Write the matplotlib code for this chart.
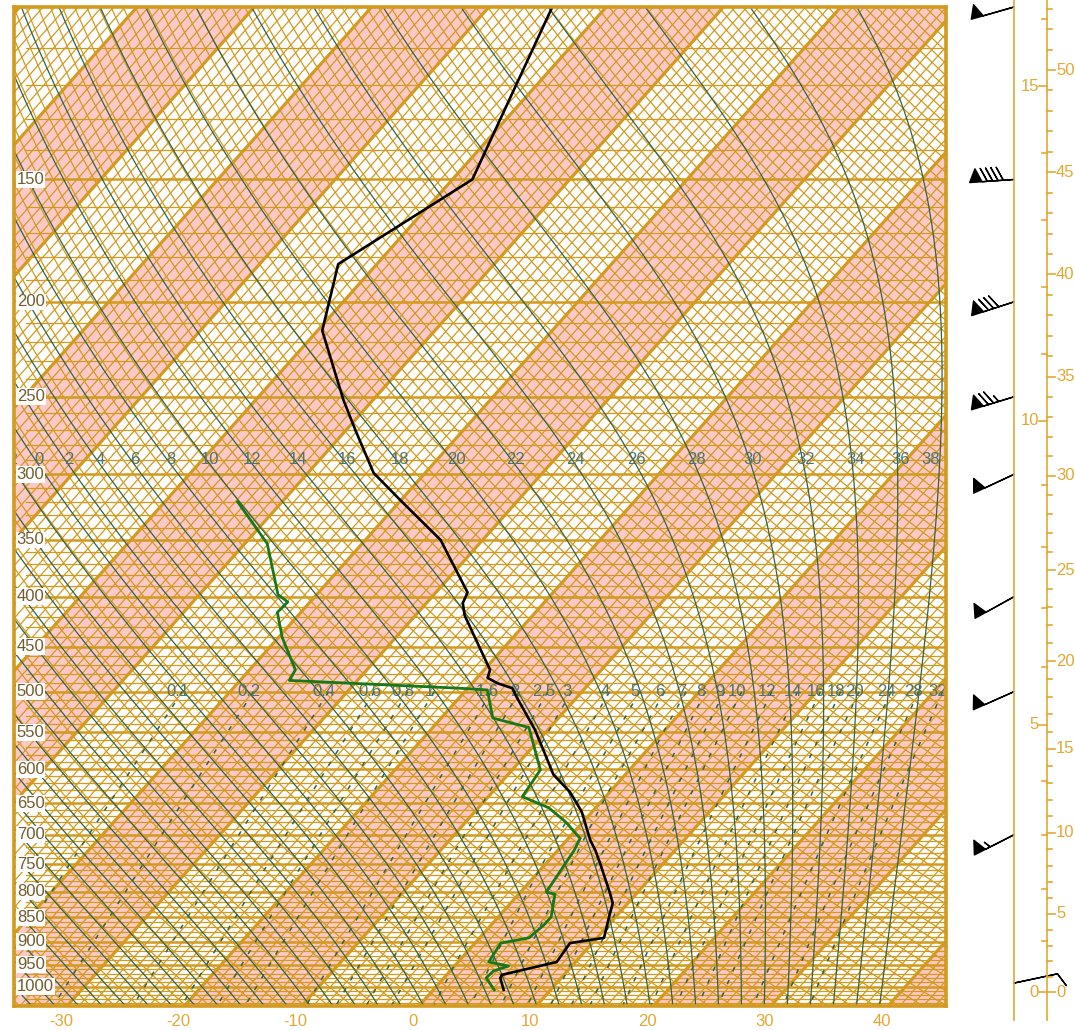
import numpy as np
import matplotlib.pyplot as plt

plt.rcParams['font.family'] = ['Liberation Sans', 'DejaVu Sans']

# ---- sounding (hPa, degC) ----
pres = [1008, 980, 973, 944, 903, 892, 855, 822, 801, 752, 726, 709, 663, 633, 608,
        547, 507, 496, 490, 484, 475, 418, 406, 396, 350, 319, 299, 271, 252, 214,
        183, 150, 100]
temp = [6.0, 4.8, 4.7, 8.4, 8.1, 10.6, 9.6, 8.7, 7.6, 4.8, 3.2, 2.0, -0.9, -3.4, -6.1,
        -11.1, -15.1, -16.2, -17.9, -19.1, -19.5, -25.8, -26.9, -27.3, -33.6, -40.0, -44.4,
        -49.1, -52.5, -59.6, -63.3, -58.3, -64.6]
dew_pres = [1008, 980, 964, 953, 944, 903, 892, 865, 849, 805, 801, 726, 706, 679, 657,
            640, 601, 544, 532, 498, 496, 487, 475, 440, 415, 405, 398, 353, 320]
dewp = [5.2, 3.6, 3.7, 4.6, 2.6, 2.2, 4.2, 4.5, 4.5, 3.1, 2.2, 1.4, 1.0, -1.5, -4.0,
        -7.1, -7.6, -11.8, -15.6, -18.2, -20.7, -35.8, -36.1, -39.7, -42.0, -41.9, -43.3,
        -48.1, -53.8]

# winds (hPa, kt, deg)
wind_pres = [992, 700, 500, 400, 300, 250, 200, 150, 100]
wind_spd = [10, 55, 50, 50, 50, 75, 80, 90, 50]
wind_dir = [78, 243, 246, 241, 245, 253, 252, 266, 254]

pres_labels = [150, 200, 250, 300, 350, 400, 450, 500, 550, 600, 650, 700, 750, 800,
               850, 900, 950, 1000]
temp_ticks = [-30, -20, -10, 0, 10, 20, 30, 40]
thw_labels = list(range(-2, 40, 2))
mix_ratios = [0.1, 0.2, 0.4, 0.6, 0.8, 1, 1.6, 2, 2.5, 3, 4, 5, 6, 7, 8, 9, 10,
              12, 14, 16, 18, 20, 24, 28, 32]
km_labels = [0, 5, 10, 15]
kft_labels = [0, 5, 10, 15, 20, 25, 30, 35, 40, 45, 50]

# ---- diagram geometry ----
P_TOP, P_BOT = 100.0, 1046.9
K = 32.35  # skew, degC per ln(p)
X0, PXD = 418.9, 11.73  # pixel of 0 degC at the bottom edge, pixels per degC
ORANGE = '#D39A1E'
PINK = '#FFC9C9'
GREEN = '#2E644A'
TEAL = '#4C7474'
GOLD = '#E3A833'


def skx(t, p):
    return np.asarray(t) + K * np.log(P_BOT / np.asarray(p))


def slope(t, lnp):
    p = np.exp(lnp)
    tk = t + 273.15
    es = 6.112 * np.exp(17.67 * t / (t + 243.5))
    rs = 0.622 * es / (p - es)
    return (287.04 * tk + 2.501e6 * rs) / (1005.7 + 2.501e6 ** 2 * rs * 0.622 / (287.04 * tk ** 2))


def moist(thw, lnp):
    t = np.array(thw, float)
    out = [t.copy()]
    for a, b in zip(lnp[:-1], lnp[1:]):
        h = b - a
        k1 = slope(t, a)
        k2 = slope(t + h / 2 * k1, a + h / 2)
        k3 = slope(t + h / 2 * k2, a + h / 2)
        k4 = slope(t + h * k3, b)
        t = t + h / 6 * (k1 + 2 * k2 + 2 * k3 + k4)
        out.append(t.copy())
    return np.array(out)


W, H = 1075, 1030
fig = plt.figure(figsize=(W / 100, H / 100), dpi=100)
ax = fig.add_axes([14 / W, 1 - 1006 / H, 932 / W, 999 / H])
xl, xr = (14 - X0) / PXD, (946 - X0) / PXD
ax.set_xlim(xl, xr)
lnb, lnt = np.log(P_BOT), np.log(P_TOP)
ax.set_ylim(lnb, lnt)

# pink bands, every other 10 degC
for t0 in range(-140, 60, 20):
    xs = [skx(t0, P_BOT), skx(t0 + 10, P_BOT), skx(t0 + 10, P_TOP), skx(t0, P_TOP)]
    ax.fill(xs, [lnb, lnb, lnt, lnt], color=PINK, lw=0, zorder=0)

# thin isotherms
for t in range(-120, 51):
    ax.plot([skx(t, P_BOT), skx(t, P_TOP)], [lnb, lnt], color=ORANGE, lw=0.9, zorder=1)

# dry adiabats
pg = np.exp(np.linspace(lnt, lnb, 120))
for th in range(230, 472, 2):
    ax.plot(skx(th * (pg / 1000) ** 0.2857 - 273.15, pg), np.log(pg),
            color=ORANGE, lw=0.9, zorder=1)

# isobars
x_start = (26 - X0) / PXD
for p in range(110, 1041, 10):
    thick = p % 50 == 0
    ax.plot([x_start, xr], [np.log(p)] * 2, color=ORANGE,
            lw=1.8 if thick else 0.9, zorder=2 if thick else 1)

# thick isotherms
for t in range(-140, 60, 10):
    ax.plot([skx(t, P_BOT), skx(t, P_TOP)], [lnb, lnt], color=ORANGE, lw=2.3, zorder=2)

# saturated adiabats
thw = np.arange(-44, 40, 2)
up = np.linspace(np.log(1000), np.log(98), 300)
dn = np.linspace(np.log(1000), np.log(1050), 12)
tu, td = moist(thw, up), moist(thw, dn)
lnp_m = np.concatenate([dn[::-1], up[1:]])
tm = np.vstack([td[::-1], tu[1:]])
for j in range(len(thw)):
    ax.plot(skx(tm[:, j], np.exp(lnp_m)), lnp_m, color=GREEN, lw=0.9, zorder=3)
for v in thw_labels:
    j = list(thw).index(v)
    tl = np.interp(np.log(290), up[::-1], tu[::-1, j])
    xlab = min(skx(tl, 290) + 0.3, xr - 1.3)
    ax.text(xlab, np.log(290), str(v), ha='center', va='center',
            fontsize=12, color=TEAL, zorder=6, clip_on=True)

# mixing ratio lines (dashed, below 500 hPa)
pw = np.linspace(500, 1050, 60)
for w in mix_ratios:
    e = w / 1000 * pw / (0.622 + w / 1000)
    le = np.log(e / 6.112)
    tw = 243.5 * le / (17.67 - le)
    ti = 272.62 * le / (22.46 - le)
    t = np.where(tw < 0, ti, tw)
    ax.plot(skx(t, pw), np.log(pw), color=GREEN, lw=1.1,
            linestyle=(0, (3, 6)), zorder=3)
    ax.text(skx(t[0], 500) - 0.4, np.log(500), f'{w:g}', ha='center', va='center',
            fontsize=12, color=TEAL, zorder=6)

# pressure labels
for p in pres_labels:
    ax.text(0.003, np.log(p), str(p), transform=ax.get_yaxis_transform(),
            ha='left', va='center', fontsize=12, color='#725C2C', zorder=7,
            bbox=dict(facecolor='white', edgecolor='none', pad=0.6))

# profiles
ax.plot(skx(temp, pres), np.log(pres), color='black', lw=1.9, zorder=8)
ax.plot(skx(dewp, dew_pres), np.log(dew_pres), color='#16781A', lw=2.0, zorder=8)

ax.set_xticks(skx(np.array(temp_ticks), P_BOT) - 0.5)
ax.set_xticklabels([str(t) for t in temp_ticks], fontsize=12, color=GOLD)
ax.tick_params(axis='x', length=0, pad=6)
ax.set_yticks([])
for s in ax.spines.values():
    s.set_color(ORANGE)
    s.set_linewidth(2.6)
    s.set_zorder(9)

# ---- right panel: winds and height scales ----
ax2 = fig.add_axes([946 / W, 1 - 1006 / H, 129 / W, 999 / H])
ax2.set_xlim(946, 1075)
ax2.set_ylim(lnb, lnt)
ax2.axis('off')


def lnp_px(y):
    return np.log(1000) - (986.5 - y) / 425.4


def isa_lnp(z):
    if z <= 11000:
        return np.log(1013.25 * (1 - 0.0065 * z / 288.15) ** 5.25588)
    return np.log(226.32 * np.exp(-(z - 11000) / 6341.62))


ya, yb = lnp_px(0), lnp_px(1020)
ax2.plot([1014, 1014], [ya, yb], color=GOLD, lw=1.2, clip_on=False)
ax2.plot([1047, 1047], [ya, yb], color=GOLD, lw=1.2, clip_on=False)
for km in range(0, 17):
    y = isa_lnp(km * 1000)
    major = km in km_labels
    ax2.plot([1047 - (8 if major else 5), 1047], [y, y], color=GOLD, lw=1.2, clip_on=False)
    if major:
        ax2.text(1039, y, str(km), ha='right', va='center', fontsize=12, color=GOLD,
                 clip_on=False)
for kft in range(0, 54):
    y = isa_lnp(kft * 304.8)
    major = kft in kft_labels
    ax2.plot([1047, 1047 + (8 if major else 5)], [y, y], color=GOLD, lw=1.2, clip_on=False)
    if major:
        ax2.text(1056, y, str(kft), ha='left', va='center', fontsize=12, color=GOLD,
                 clip_on=False)

d = np.radians(wind_dir)
u = -np.array(wind_spd) * np.sin(d)
v = -np.array(wind_spd) * np.cos(d)
ax2.barbs(np.full(len(wind_pres), 1014.0), np.log(wind_pres), u, v, length=8.0,
          pivot='tip', color='black', linewidth=1.0, clip_on=False,
          sizes=dict(spacing=0.12, height=0.3, width=0.28))

fig.savefig('out.png', dpi=100)
